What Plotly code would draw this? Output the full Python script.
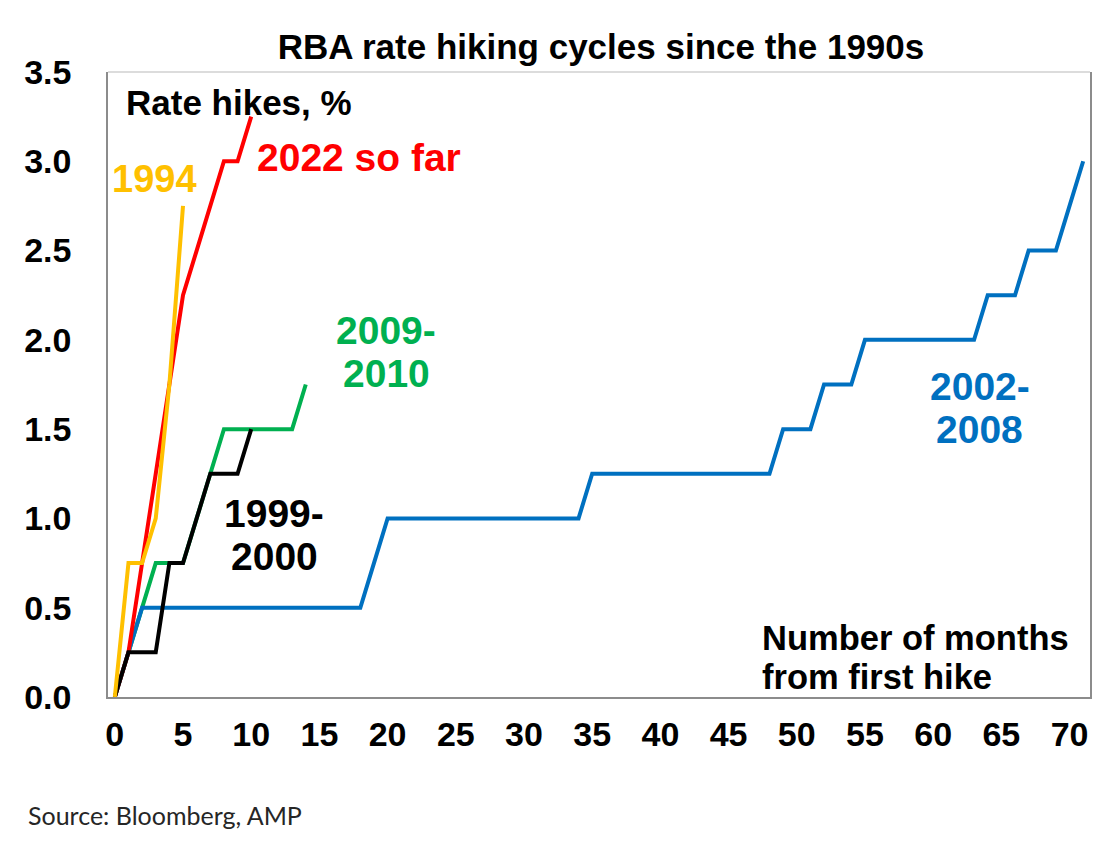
import plotly.graph_objects as go

# rate hikes (cumulative, %) by months from first hike
hikes_1994 = [0, 0.75, 0.75, 1.0, 1.75, 2.75]
hikes_1999 = [0, 0.25, 0.25, 0.25, 0.75, 0.75, 1.0, 1.25, 1.25, 1.25, 1.5]
hikes_2002 = [0, 0.25,
              0.5, 0.5, 0.5, 0.5, 0.5, 0.5, 0.5, 0.5, 0.5, 0.5, 0.5, 0.5, 0.5, 0.5, 0.5, 0.5, 0.5,
              0.75,
              1.0, 1.0, 1.0, 1.0, 1.0, 1.0, 1.0, 1.0, 1.0, 1.0, 1.0, 1.0, 1.0, 1.0, 1.0,
              1.25, 1.25, 1.25, 1.25, 1.25, 1.25, 1.25, 1.25, 1.25, 1.25, 1.25, 1.25, 1.25, 1.25,
              1.5, 1.5, 1.5,
              1.75, 1.75, 1.75,
              2.0, 2.0, 2.0, 2.0, 2.0, 2.0, 2.0, 2.0, 2.0,
              2.25, 2.25, 2.25,
              2.5, 2.5, 2.5,
              2.75, 3.0]
hikes_2009 = [0, 0.25, 0.5, 0.75, 0.75, 0.75, 1.0, 1.25, 1.5, 1.5, 1.5, 1.5, 1.5, 1.5, 1.75]
hikes_2022 = [0, 0.25, 0.75, 1.25, 1.75, 2.25, 2.5, 2.75, 3.0, 3.0, 3.25]

x_ticks = [0, 5, 10, 15, 20, 25, 30, 35, 40, 45, 50, 55, 60, 65, 70]
y_ticks = [0.0, 0.5, 1.0, 1.5, 2.0, 2.5, 3.0, 3.5]

RED = '#FF0000'
YELLOW = '#FFC000'
GREEN = '#00B050'
BLACK = '#000000'
BLUE = '#0070C0'
FONT = 'Liberation Sans, Arial, sans-serif'

# the page body has an 8px margin, so the figure is 8px smaller than the window
W, H = 1106, 837
ML, MR, MT, MB = 100, 24, 64, 148

fig = go.Figure()

# drawing order matters where lines overlap
for vals, col in [(hikes_2009, GREEN), (hikes_2002, BLUE), (hikes_2022, RED),
                  (hikes_1999, BLACK), (hikes_1994, YELLOW)]:
    fig.add_trace(go.Scatter(
        x = list(range(len(vals))),
        y = vals,
        mode = 'lines',
        line = dict(color=col, width=4),
        showlegend = False,
        hoverinfo = 'skip'
    ))

def label(lines, x, y, col, size=39, gap=43, anchor='center'):
    # one annotation per line so the line spacing can be set
    n = len(lines)
    for i, txt in enumerate(lines):
        fig.add_annotation(
            x=x, y=y, xref='x', yref='y', text=txt, showarrow=False,
            xanchor=anchor, yanchor='middle', yshift=((n - 1) / 2 - i) * gap,
            font=dict(family=FONT, size=size, color=col, weight='bold')
        )

label(['Rate hikes, %'], 0.68, 3.33, BLACK, size=35, anchor='left')
label(['1994'], 2.92, 2.90, YELLOW, size=38)
label(['2022 so far'], 10.3, 3.02, RED, anchor='left')
label(['2009-', '2010'], 19.9, 1.93, GREEN)
label(['1999-', '2000'], 11.7, 0.91, BLACK)
label(['2002-', '2008'], 63.4, 1.62, BLUE)
label(['Number of months', 'from first hike'], 47.3, 0.22, BLACK, size=34.5, gap=39, anchor='left')

plot_w = W - ML - MR
plot_h = H - MT - MB
fig.add_annotation(
    x=(26 - 8 - ML) / plot_w, y=(H - MB + 8 - 815) / plot_h,
    xref='paper', yref='paper', text='Source: Bloomberg, AMP',
    showarrow=False, xanchor='left', yanchor='middle',
    font=dict(family='Lato, Open Sans, sans-serif', size=25, color='#262626')
)

fig.update_layout(
    width = W,
    height = H,
    margin = dict(l=ML, r=MR, t=MT, b=MB),
    paper_bgcolor = 'white',
    plot_bgcolor = 'white',
    title = dict(
        text = 'RBA rate hiking cycles since the 1990s',
        x = (601 - 8) / W, xanchor = 'center',
        y = 1 - (47 - 8) / H, yanchor = 'middle',
        font = dict(family=FONT, size=35, color=BLACK, weight='bold')
    ),
    xaxis = dict(
        range = [-0.5, 71.5],
        tickvals = x_ticks,
        ticktext = [str(t) for t in x_ticks],
        showgrid = False, zeroline = False,
        showline = True, linecolor = '#8C8C8C', linewidth = 1.5,
        ticks = '', ticklabelstandoff = 6,
        tickfont = dict(family=FONT, size=34, color=BLACK, weight='bold')
    ),
    yaxis = dict(
        range = [0, 3.5],
        tickvals = y_ticks,
        ticktext = ['%.1f' % t for t in y_ticks],
        showgrid = False, zeroline = False,
        showline = True, mirror = True, linecolor = '#8C8C8C', linewidth = 1.5,
        ticks = '', ticklabelstandoff = 28,
        tickfont = dict(family=FONT, size=34, color=BLACK, weight='bold')
    ),
    shapes = [
        dict(type='line', xref='paper', yref='paper', x0=0, x1=1, y0=1, y1=1,
             line=dict(color='#D0D0D0', width=1.5))
    ]
)

fig.write_html("out.html")
